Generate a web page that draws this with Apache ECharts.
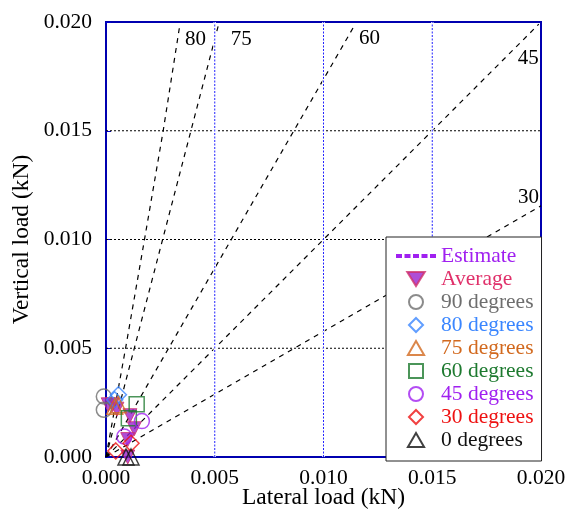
<!DOCTYPE html>
<html><head><meta charset="utf-8">
<script src="https://cdn.jsdelivr.net/npm/echarts@6/dist/echarts.min.js"></script>
<style>html,body{margin:0;padding:0;background:#fff}#c{width:570px;height:513px}</style>
</head><body><div id="c"></div>
<script>
// Axis ticks (interior grid lines)
const xGridTicks = [0.005, 0.010, 0.015];
const yGridTicks = [0.005, 0.010, 0.015];
const axisMin = 0, axisMax = 0.02;

// Estimate lines (angle in degrees -> points along dashed line)
const estimateAngles = ['80','75','60','45','30'];
const estimate80 = [[0,0],[0.0009,0.005],[0.00177,0.010],[0.00263,0.015],[0.0034,0.0199]];
const estimate75 = [[0,0],[0.00518,0.0199]];
const estimate60 = [[0,0],[0.0114,0.0198]];
const estimate45 = [[0,0],[0.0199,0.0199]];
const estimate30 = [[0,0],[0.0200,0.01155]];

// Measured points
const average = [[0.0001,0.0024],[0.0003,0.0024],[0.0005,0.0022],[0.0011,0.0019],[0.0013,0.0013],[0.0010,0.0008],[0.0010,0.0000]];
const deg90 = [[-0.0001,0.00278],[-0.0001,0.00217]];
const deg80 = [[0.00057,0.00286],[0.0004,0.00263]];
const deg75 = [[0.00057,0.0024],[0.0004,0.00233]];
const deg60 = [[0.00141,0.00243],[0.00105,0.00178]];
const deg45 = [[0.00165,0.00165],[0.00084,0.00094]];
const deg30 = [[0.00115,0.00063],[0.00045,0.00028]];
const deg0  = [[0.00092,0.0],[0.00115,0.0]];

const FONT = 'Liberation Serif';
const C = {
  est:'#a020f0', avg:'#e0306a', avgMark:'#9a22cc', avgEdge:'#d0306a',
  d90:'#6e6e6e', d80:'#3a86ff', d75:'#d2691e', d60:'#1e7a30', d45:'#a020f0', d30:'#ee1111', d0:'#111111'
};

const gridSeries = [];
yGridTicks.forEach(v=>gridSeries.push({
  name:'gridY', type:'line', data:[[axisMin,v],[axisMax,v]], symbol:'none', z:0, silent:true, animation:false,
  lineStyle:{color:'#000', width:1, type:[2,2]}, emphasis:{disabled:true}
}));
xGridTicks.forEach(v=>{
  gridSeries.push({
    name:'gridXbg', type:'line', data:[[v,axisMin],[v,axisMax]], symbol:'none', z:1.4, silent:true, animation:false,
    lineStyle:{color:'#ffffff', width:2.5, type:'solid'}, emphasis:{disabled:true}
  });
  gridSeries.push({
    name:'gridX', type:'line', data:[[v,axisMin],[v,axisMax]], symbol:'none', z:1.5, silent:true, animation:false,
    lineStyle:{color:'#2222ff', width:1, type:[2,1.5]}, emphasis:{disabled:true}
  });
});

const estData = [estimate80, estimate75, estimate60, estimate45, estimate30];
const labelOffsets = [[5,15],[12,15],[5,12],[-21,34],[-23,-8]];
const estSeries = estData.map((d,i)=>({
  name:'Estimate', type:'line', data:d, symbol:'none', z:1,
  lineStyle:{color:'#000', width:1.2, type:[5,5]},
  endLabel:{show:true, formatter:estimateAngles[i], fontFamily:FONT, fontSize:21, color:'#000', distance:0, offset:labelOffsets[i]},
  emphasis:{disabled:true}, silent:true, animation:false
}));

function hollow(name, data, symbol, size, color){
  return {name, type:'scatter', data, symbol, symbolSize:size, clip:false, z:3,
    itemStyle:{color:'rgba(255,255,255,0)', borderColor:color, borderWidth:1.5}, animation:false};
}

const series = gridSeries.concat(estSeries, [
  {name:'Average', type:'scatter', data:average, symbol:'path://M0,0L2,0L1,1.73Z', symbolSize:14, clip:false, z:2,
    itemStyle:{color:C.avgMark, borderColor:C.avgEdge, borderWidth:1}, animation:false},
  hollow('90 degrees', deg90, 'circle', 15, C.d90),
  hollow('80 degrees', deg80, 'diamond', 16, C.d80),
  hollow('75 degrees', deg75, 'triangle', 16, C.d75),
  hollow('60 degrees', deg60, 'rect', 15, C.d60),
  hollow('45 degrees', deg45, 'circle', 15, C.d45),
  hollow('30 degrees', deg30, 'diamond', 16, C.d30),
  hollow('0 degrees', deg0, 'triangle', 16, C.d0)
]);

const DIAMOND = 'path://M1,0L2,1L1,2L0,1Z';
const TRIANGLE = 'path://M1,0L2,1.73L0,1.73Z';
const SQUARE = 'path://M0,0L2,0L2,2L0,2Z';
const DOWNTRI = 'path://M0,0L2,0L1,1.6Z';
const legendItems = [
  {name:'Estimate', textStyle:{color:C.est}, lineStyle:{color:C.est, width:4, type:[6,2.5]},
    itemStyle:{color:'rgba(0,0,0,0)', borderColor:'rgba(0,0,0,0)', borderWidth:0}},
  {name:'Average', textStyle:{color:C.avg}, icon:DOWNTRI},
  {name:'90 degrees', textStyle:{color:C.d90}},
  {name:'80 degrees', textStyle:{color:C.d80}, icon:DIAMOND},
  {name:'75 degrees', textStyle:{color:C.d75}, icon:TRIANGLE},
  {name:'60 degrees', textStyle:{color:C.d60}, icon:SQUARE},
  {name:'45 degrees', textStyle:{color:C.d45}},
  {name:'30 degrees', textStyle:{color:C.d30}, icon:DIAMOND},
  {name:'0 degrees', textStyle:{color:C.d0}, icon:TRIANGLE}
];

const axisCommon = {
  type:'value', min:axisMin, max:axisMax, interval:0.005,
  nameLocation:'middle', nameMoveOverlap:false,
  nameTextStyle:{fontFamily:FONT, fontSize:23.5, color:'#000'},
  axisLine:{show:true, onZero:false, lineStyle:{color:'#0000b0', width:2}},
  axisTick:{show:true, inside:true, length:5, lineStyle:{color:'#0000d0', width:1}},
  axisLabel:{fontFamily:FONT, fontSize:21.5, color:'#000', formatter:v=>v.toFixed(3)},
  splitLine:{show:false}
};

const chart = echarts.init(document.getElementById('c'), null, {renderer:'canvas'});
chart.setOption({
  animation:false,
  backgroundColor:'#fff',
  grid:{left:106, right:29, top:22, bottom:56, containLabel:false, outerBoundsMode:'none',
    show:true, borderColor:'#0000b0', borderWidth:2, backgroundColor:'transparent'},
  xAxis:Object.assign({}, axisCommon, {
    name:'Lateral load (kN)', nameGap:29,
    axisLabel:Object.assign({}, axisCommon.axisLabel, {margin:10})
  }),
  yAxis:Object.assign({}, axisCommon, {
    name:'Vertical load (kN)', nameGap:72,
    axisLabel:Object.assign({}, axisCommon.axisLabel, {margin:14})
  }),
  legend:{
    orient:'vertical', left:386, top:237,
    backgroundColor:'#fff', borderColor:'#222', borderWidth:1,
    padding:[8,8,10,8], itemWidth:40, itemHeight:14, itemGap:1,
    textStyle:{fontFamily:FONT, fontSize:21.5},
    selectedMode:false,
    data:legendItems
  },
  series
});
</script></body></html>
